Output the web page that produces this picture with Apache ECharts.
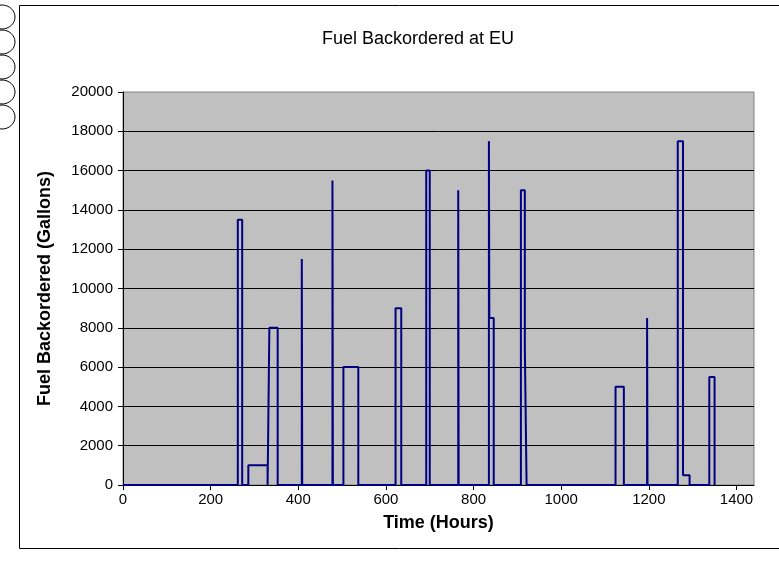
<!DOCTYPE html>
<html>
<head>
<meta charset="utf-8">
<script src="https://cdn.jsdelivr.net/npm/echarts@6/dist/echarts.min.js"></script>
<style>
html,body{margin:0;padding:0;background:#fff;}
#chart{width:779px;height:574px;}
</style>
</head>
<body>
<div id="chart"></div>
<script>
// Event times (hours) and the backorder level holding from that time on
const times  = [0, 262, 272, 286, 330, 334, 353, 408, 409, 478, 479, 503, 537, 622, 635, 692, 700, 765, 766, 835, 836, 846, 908, 917, 921, 1124, 1143, 1196, 1197, 1266, 1278, 1293, 1338, 1350];
const values = [0, 13500, 0, 1000, 0, 8000, 0, 11500, 0, 15500, 0, 6000, 0, 9000, 0, 16000, 0, 15000, 0, 17500, 8500, 0, 15000, 7000, 0, 5000, 0, 8500, 0, 17500, 500, 0, 5500, 0];
const xTicks = [0, 200, 400, 600, 800, 1000, 1200, 1400];
const title = 'Fuel Backordered at EU';
const xName = 'Time (Hours)';
const yName = 'Fuel Backordered (Gallons)';

const data = times.map((t, i) => [t, values[i]]);
const chart = echarts.init(document.getElementById('chart'), null, {renderer: 'canvas'});
const font = 'Arial, "Liberation Sans", sans-serif';
const plain = v => String(v);

chart.setOption({
  animation: false,
  backgroundColor: '#ffffff',
  title: {
    text: title,
    left: 413, top: 25, textAlign: 'center',
    textStyle: {fontFamily: font, fontSize: 18, fontWeight: 'normal', color: '#000'}
  },
  grid: {
    left: 123, right: 25, top: 92, bottom: 89,
    show: true, backgroundColor: '#C0C0C0', borderColor: '#808080', borderWidth: 1
  },
  xAxis: {
    type: 'value', min: 0, max: 1440,
    name: xName, nameLocation: 'middle', nameGap: 29,
    nameTextStyle: {fontFamily: font, fontSize: 18, fontWeight: 'bold', color: '#000'},
    axisLine: {show: true, onZero: false, lineStyle: {color: '#000', width: 1}},
    axisTick: {show: true, length: 5, customValues: xTicks, lineStyle: {color: '#000'}},
    axisLabel: {customValues: xTicks, margin: 7, formatter: plain, fontFamily: font, fontSize: 15, color: '#000'},
    splitLine: {show: false}
  },
  yAxis: {
    type: 'value', min: 0, max: 20000, interval: 2000,
    name: yName, nameLocation: 'middle', nameGap: 69, nameRotate: 90,
    nameTextStyle: {fontFamily: font, fontSize: 18, fontWeight: 'bold', color: '#000'},
    axisLine: {show: true, lineStyle: {color: '#000', width: 1}},
    axisTick: {show: true, length: 5, inside: false, lineStyle: {color: '#000'}},
    axisLabel: {margin: 10, formatter: plain, fontFamily: font, fontSize: 15, color: '#000'},
    splitLine: {show: true, showMinLine: false, showMaxLine: false, lineStyle: {color: '#000', width: 1}}
  },
  series: [{
    type: 'line',
    step: 'end',
    data: data,
    symbol: 'none',
    lineStyle: {color: '#000080', width: 2},
    z: 5
  }],
  graphic: [
    {type: 'rect', shape: {x: 19.5, y: 5.5, width: 820, height: 543}, style: {fill: 'none', stroke: '#000', lineWidth: 1}, z: -1},
    {type: 'ellipse', shape: {cx: 2, cy: 17, rx: 13, ry: 12}, style: {fill: '#fff', stroke: '#000', lineWidth: 1}},
    {type: 'ellipse', shape: {cx: 2, cy: 42, rx: 13, ry: 12}, style: {fill: '#fff', stroke: '#000', lineWidth: 1}},
    {type: 'ellipse', shape: {cx: 2, cy: 67, rx: 13, ry: 12}, style: {fill: '#fff', stroke: '#000', lineWidth: 1}},
    {type: 'ellipse', shape: {cx: 2, cy: 92, rx: 13, ry: 12}, style: {fill: '#fff', stroke: '#000', lineWidth: 1}},
    {type: 'ellipse', shape: {cx: 2, cy: 117, rx: 13, ry: 12}, style: {fill: '#fff', stroke: '#000', lineWidth: 1}}
  ]
});
</script>
</body>
</html>
